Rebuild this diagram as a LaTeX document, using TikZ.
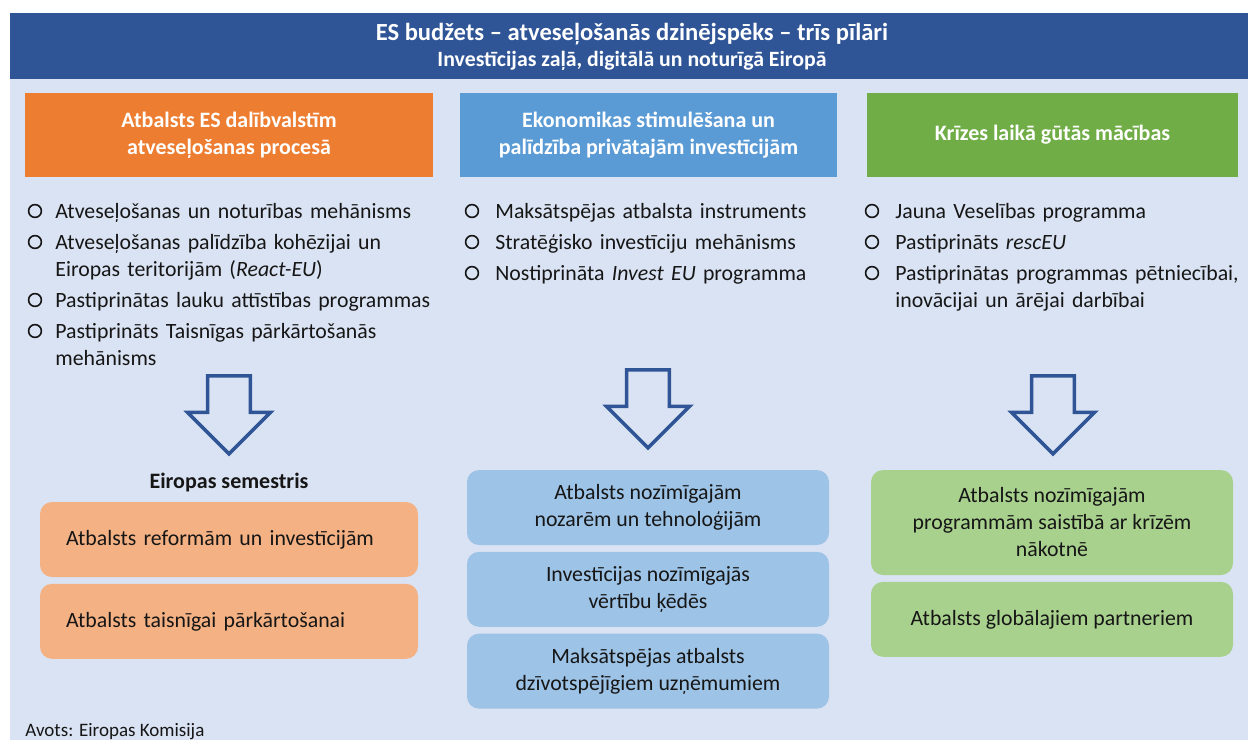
\documentclass[tikz,border=0pt]{standalone}
\usepackage{fontspec}
\setmainfont{Carlito}
\usepackage{tikz}
\usetikzlibrary{shapes.arrows,positioning}
\definecolor{titleBlue}{RGB}{47,85,151}
\definecolor{panelBlue}{RGB}{218,227,243}
\definecolor{pillarOrange}{RGB}{237,125,49}
\definecolor{pillarBlue}{RGB}{91,155,213}
\definecolor{pillarGreen}{RGB}{112,173,71}
\definecolor{tileOrange}{RGB}{244,177,131}
\definecolor{tileBlue}{RGB}{157,195,230}
\definecolor{tileGreen}{RGB}{169,209,142}
\definecolor{inkGray}{RGB}{22,22,22}

\begin{document}
\begin{tikzpicture}[x=0.5pt, y=-0.5pt,
  every node/.style={font=\fontsize{10.9}{13.5}\selectfont, text=inkGray},
  pillar/.style={fill=#1, text=white, font=\fontsize{11}{13.5}\selectfont\bfseries, minimum height=42pt, align=center, inner sep=0pt},
  item/.style={anchor=base west, text width=205pt, align=left, inner sep=0pt},
  bul/.style={circle, draw=inkGray, line width=0.8pt, minimum size=6.4pt, inner sep=0pt},
  tile/.style={fill=#1, rounded corners=6pt, minimum width=181pt, minimum height=37.5pt, align=center, inner sep=0pt},
  hollow/.style={single arrow, draw=titleBlue, line width=1.8pt, shape border rotate=270, minimum height=39pt, minimum width=41pt, single arrow head extend=10pt, inner sep=9.8pt, anchor=tail}]
  \useasboundingbox (0,0) rectangle (1248,740);
  % Background panel and title bar
  \fill[panelBlue] (10,79) rectangle (1248,740);
  \node[fill=titleBlue, minimum width=619pt, minimum height=33pt, inner sep=0pt] (titlebar) at (629,46) {};
  \node[text=white, font=\fontsize{12.3}{14}\selectfont\bfseries] (title) at (632,34) {ES budžets – atveseļošanās dzinējspēks – trīs pīlāri};
  \node[text=white, font=\fontsize{10.9}{12}\selectfont\bfseries] (subtitle) at (632,61) {Investīcijas zaļā, digitālā un noturīgā Eiropā};

  % Three pillars
  \node[pillar=pillarOrange, minimum width=204pt] (pilA) at (229,135) {Atbalsts ES dalībvalstīm\\ atveseļošanas procesā};
  \node[pillar=pillarBlue, minimum width=188.5pt] (pilB) at (648.5,135) {Ekonomikas stimulēšana un\\ palīdzība privātajām investīcijām};
  \node[pillar=pillarGreen, minimum width=185.5pt] (pilC) at (1052.5,135) {Krīzes laikā gūtās mācības};

  % Bullet lists
  \node[bul] (bA1) at (35,211) {};
  \node[item] (iA1) at (55,218) {Atveseļošanas un noturības mehānisms};
  \node[bul] (bA2) at (35,242) {};
  \node[item] (iA2) at (55,249) {Atveseļošanas palīdzība kohēzijai un\\ Eiropas teritorijām (\textit{React-EU})};
  \node[bul] (bA3) at (35,300) {};
  \node[item] (iA3) at (55,307) {Pastiprinātas lauku attīstības programmas};
  \node[bul] (bA4) at (35,331) {};
  \node[item] (iA4) at (55,338) {Pastiprināts Taisnīgas pārkārtošanās\\ mehānisms};

  \node[bul] (bB1) at (472,211) {};
  \node[item] (iB1) at (495,218) {Maksātspējas atbalsta instruments};
  \node[bul] (bB2) at (472,242) {};
  \node[item] (iB2) at (495,249) {Stratēģisko investīciju mehānisms};
  \node[bul] (bB3) at (472,273) {};
  \node[item] (iB3) at (495,280) {Nostiprināta \textit{Invest EU} programma};

  \node[bul] (bC1) at (872,211) {};
  \node[item] (iC1) at (895,218) {Jauna Veselības programma};
  \node[bul] (bC2) at (872,242) {};
  \node[item] (iC2) at (895,249) {Pastiprināts \textit{rescEU}};
  \node[bul] (bC3) at (872,273) {};
  \node[item] (iC3) at (895,280) {Pastiprinātas programmas pētniecībai,\\ inovācijai un ārējai darbībai};

  % Hollow arrows
  \node[hollow] (arrA) at (229,374) {};
  \node[hollow] (arrB) at (648,368) {};
  \node[hollow] (arrC) at (1053,374) {};

  % Result tiles
  \node[font=\fontsize{11}{13.5}\selectfont\bfseries] (semestris) at (229,483) {Eiropas semestris};
  \node[tile=tileOrange, minimum width=189pt, text width=163pt, align=left, inner xsep=13pt] (tA1) at (229,539.5) {Atbalsts reformām un investīcijām};
  \node[tile=tileOrange, minimum width=189pt, text width=163pt, align=left, inner xsep=13pt, below=3pt of tA1] (tA2) {Atbalsts taisnīgai pārkārtošanai};

  \node[tile=tileBlue] (tB1) at (648,507.5) {Atbalsts nozīmīgajām\\ nozarēm un tehnoloģijām};
  \node[tile=tileBlue, below=3pt of tB1] (tB2) {Investīcijas nozīmīgajās\\ vērtību ķēdēs};
  \node[tile=tileBlue, below=3pt of tB2] (tB3) {Maksātspējas atbalsts\\ dzīvotspējīgiem uzņēmumiem};

  \node[tile=tileGreen, minimum height=52.5pt] (tC1) at (1052,522.5) {Atbalsts nozīmīgajām\\ programmām saistībā ar krīzēm\\ nākotnē};
  \node[tile=tileGreen, below=3pt of tC1] (tC2) {Atbalsts globālajiem partneriem};

  % Source
  \node[anchor=base west, inner sep=0pt, font=\fontsize{9.5}{11}\selectfont] (source) at (25,736) {Avots: Eiropas Komisija};
\end{tikzpicture}
\end{document}
